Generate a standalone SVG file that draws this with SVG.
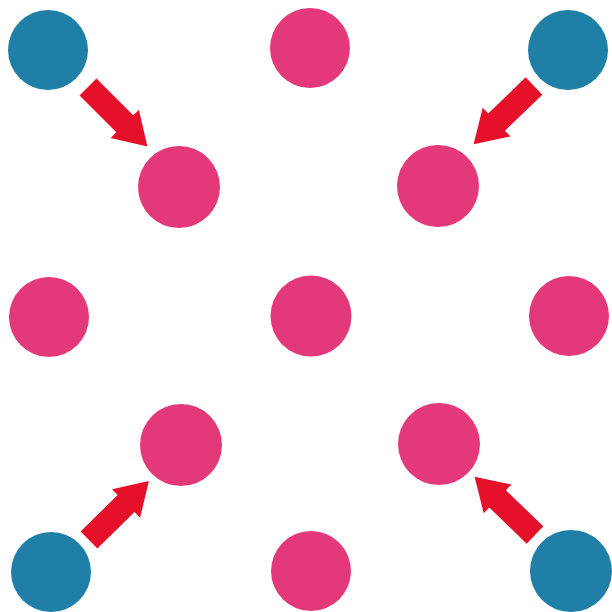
<svg xmlns="http://www.w3.org/2000/svg" width="612" height="612" viewBox="0 0 612 612">
<style>
.blue{fill:#1f7fa6}
.pink{fill:#e3397a}
.arrow{fill:#e51029}
</style>
<defs>
<path id="arr" d="M0,-12 L52,-12 L52,-20 L84,0 L52,20 L52,12 L0,12 Z"/>
</defs>
<rect width="612" height="612" fill="#ffffff"/>
<g id="n1"><circle class="blue" cx="48" cy="50" r="40"/></g>
<g id="n2"><circle class="pink" cx="310" cy="48" r="40"/></g>
<g id="n3"><circle class="blue" cx="568" cy="50" r="40"/></g>
<g id="n4"><circle class="pink" cx="179" cy="187" r="41"/></g>
<g id="n5"><circle class="pink" cx="438" cy="186" r="41"/></g>
<g id="n6"><circle class="pink" cx="49" cy="317" r="40"/></g>
<g id="n7"><circle class="pink" cx="311" cy="316" r="40.5"/></g>
<g id="n8"><circle class="pink" cx="569" cy="316" r="40"/></g>
<g id="n9"><circle class="pink" cx="181" cy="445" r="41"/></g>
<g id="n10"><circle class="pink" cx="439" cy="444" r="41"/></g>
<g id="n11"><circle class="blue" cx="51" cy="572" r="40"/></g>
<g id="n12"><circle class="pink" cx="311" cy="571" r="40"/></g>
<g id="n13"><circle class="blue" cx="571" cy="571" r="41"/></g>
<g id="connectors" class="arrow">
<use href="#arr" transform="translate(88,87) rotate(45)"/>
<use href="#arr" transform="translate(534,86) rotate(136)"/>
<use href="#arr" transform="translate(89,540) rotate(-44.5)"/>
<use href="#arr" transform="translate(535,535) rotate(-136)"/>
</g>
</svg>
